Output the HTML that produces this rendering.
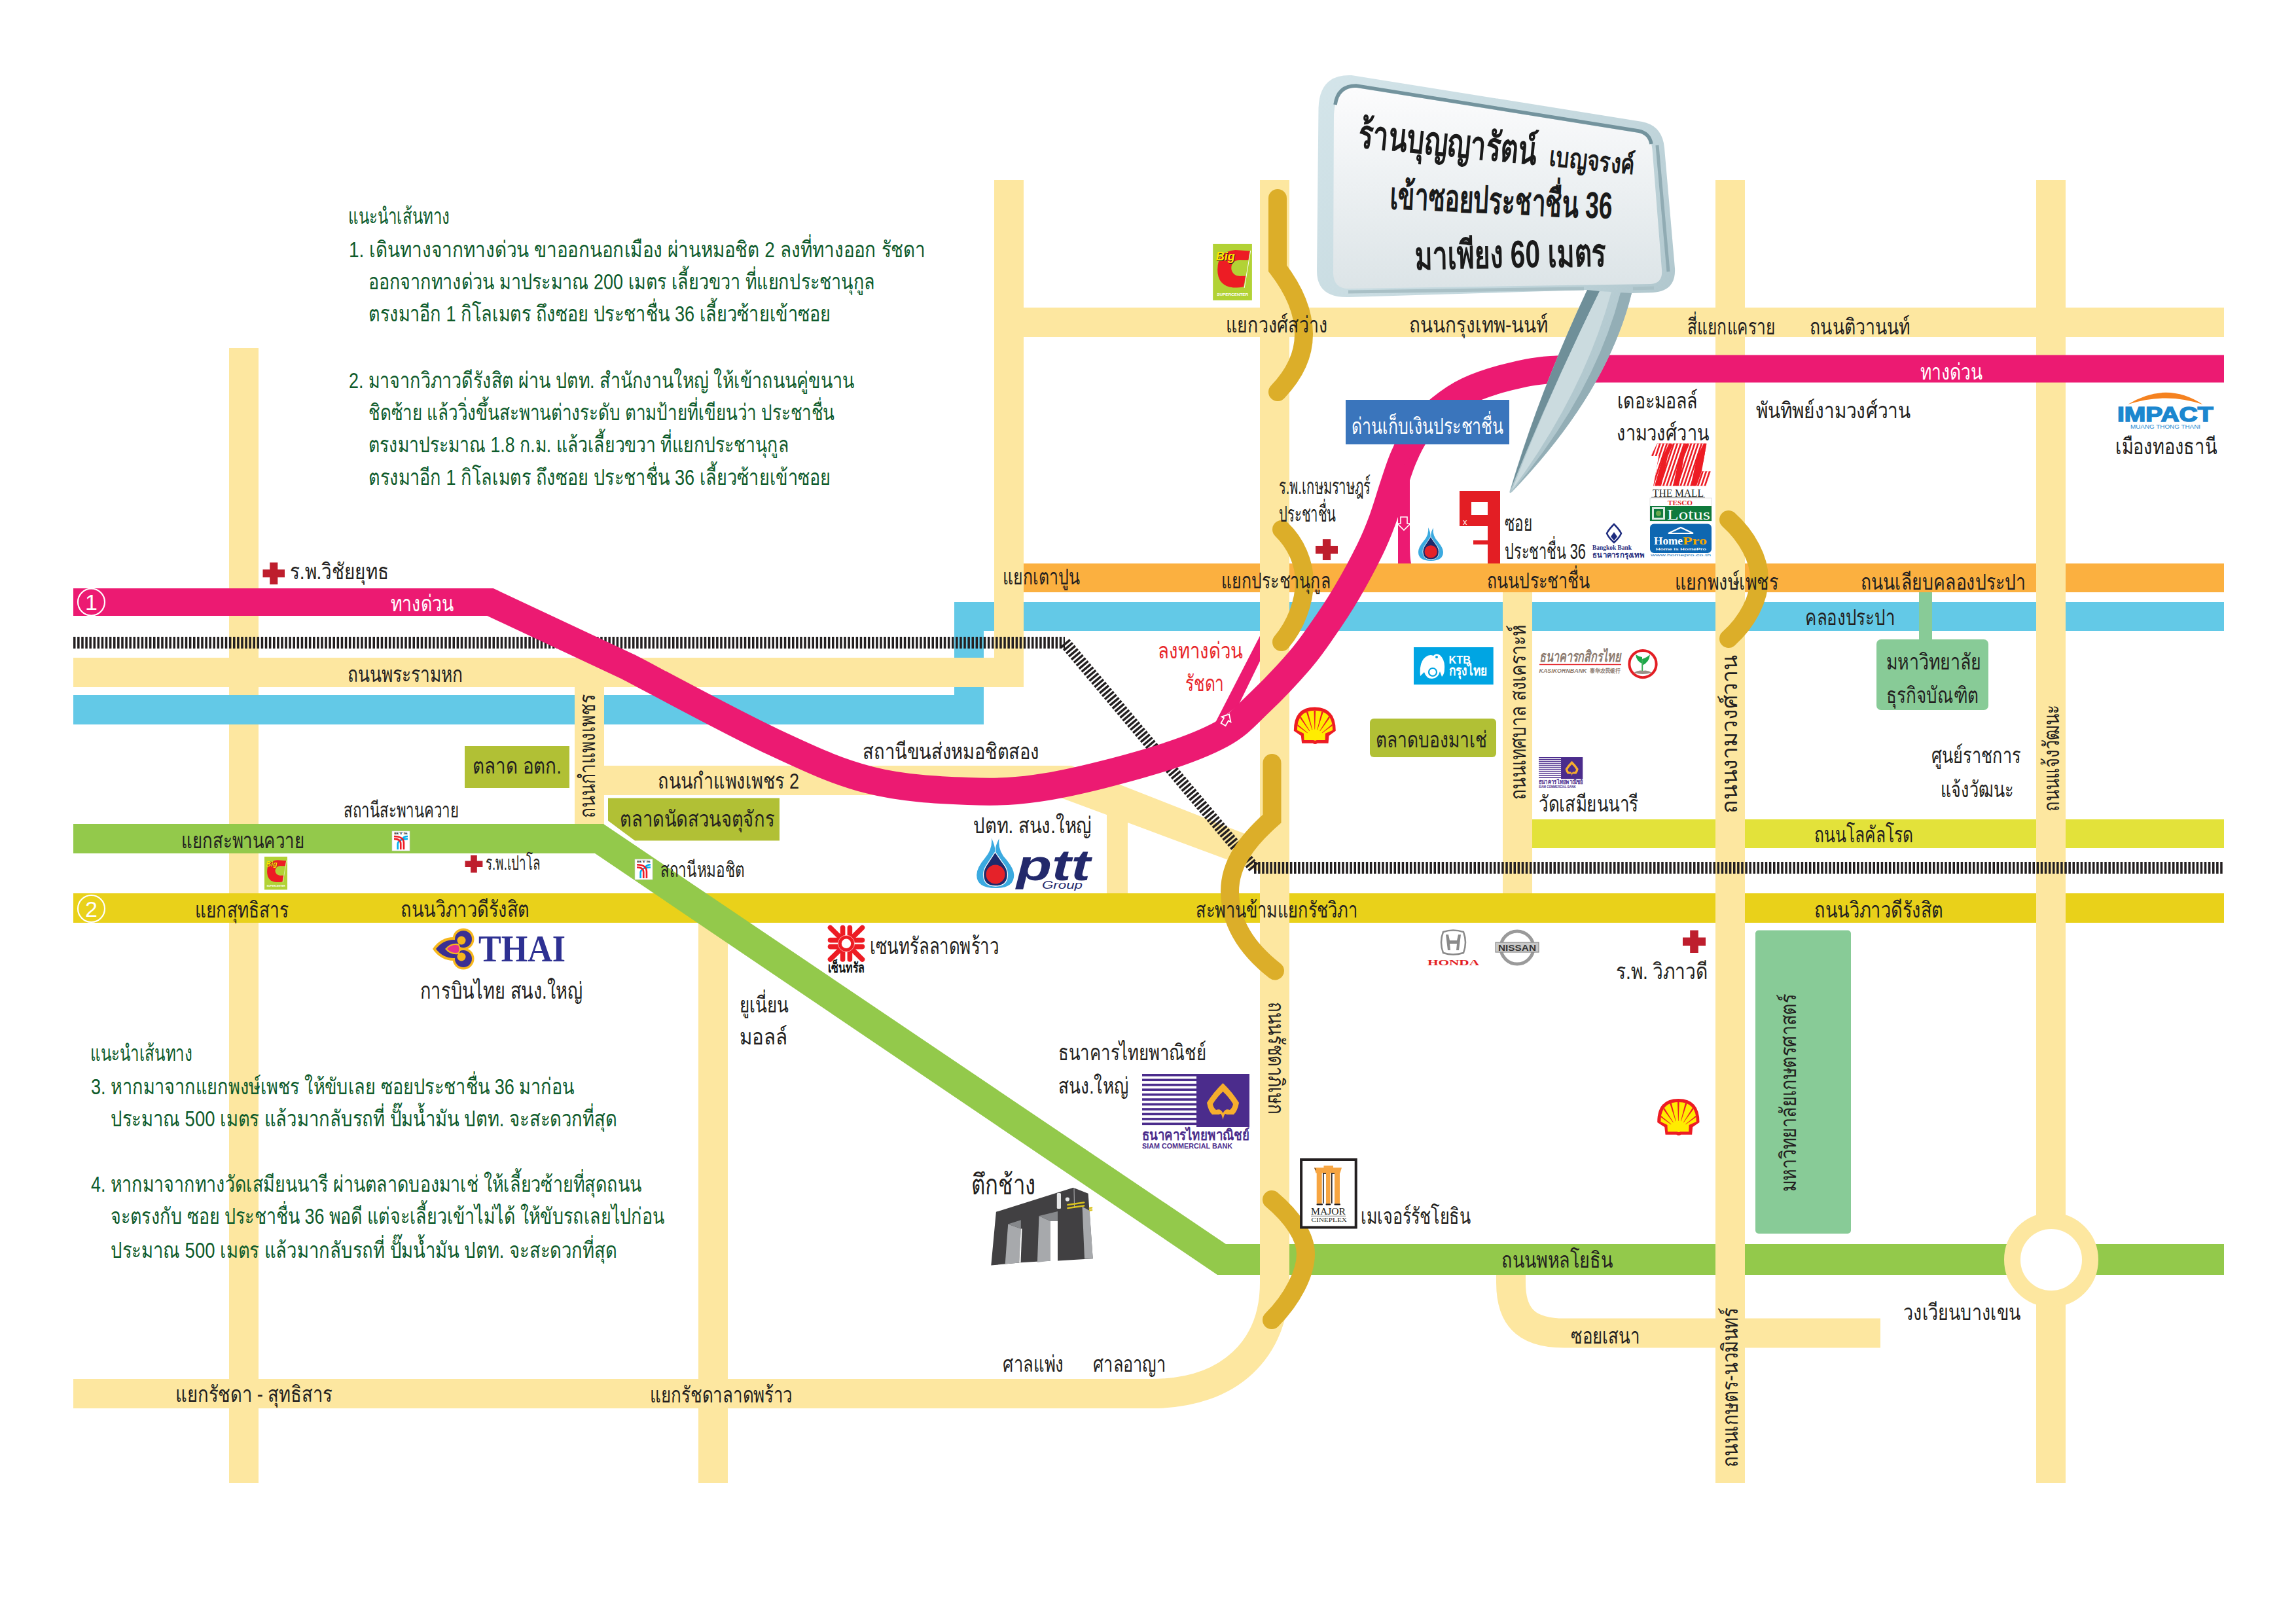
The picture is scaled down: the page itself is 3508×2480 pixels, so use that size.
<!DOCTYPE html>
<html><head><meta charset="utf-8"><title>map</title>
<style>html,body{margin:0;padding:0;background:#fff;} svg{display:block;}</style></head>
<body><svg xmlns="http://www.w3.org/2000/svg" width="3508" height="2480" viewBox="0 0 3508 2480" font-family='"Liberation Sans", sans-serif'>
<rect x="0" y="0" width="3508" height="2480" fill="#FFFFFF"/>
<rect x="350" y="532" width="45" height="1734" fill="#FDE7A0" />
<rect x="1564" y="470" width="1834" height="45" fill="#FDE7A0" />
<rect x="1067" y="1410" width="45" height="856" fill="#FDE7A0" />
<path d="M 112 2129.5 L 1760 2129.5 C 1880 2129.5 1947.5 2060 1947.5 1960 L 1947.5 1900" fill="none" stroke="#FDE7A0" stroke-width="45"/>
<rect x="112" y="1062" width="1391" height="45" fill="#63C9E7" />
<rect x="1458" y="920" width="45" height="187" fill="#63C9E7" />
<rect x="1458" y="920" width="1940" height="44" fill="#63C9E7" />
<rect x="1564" y="861" width="1834" height="44" fill="#FBB040" />
<rect x="2341" y="1252" width="1057" height="44" fill="#E3E23A" />
<rect x="112" y="1365" width="3286" height="45" fill="#E9D11A" />
<rect x="1860" y="1901" width="1538" height="47" fill="#93C94B" />
<path d="M 2308.5 1948 L 2308.5 1960 C 2308.5 2010 2330 2037 2390 2037 L 2873 2037" fill="none" stroke="#FDE7A0" stroke-width="45"/>
<path d="M 1930 962 L 1857 1104 L 1892 1078 L 1930 1000 Z" fill="#EC1A72"/>
<rect x="1519" y="275" width="45" height="775" fill="#FDE7A0" />
<rect x="112" y="1005" width="1452" height="45" fill="#FDE7A0" />
<rect x="878" y="1050" width="45" height="210" fill="#FDE7A0" />
<rect x="1925" y="275" width="45" height="1685" fill="#FDE7A0" />
<rect x="2621" y="275" width="45" height="1991" fill="#FDE7A0" />
<rect x="3111" y="275" width="45" height="1991" fill="#FDE7A0" />
<rect x="2296" y="905" width="45" height="460" fill="#FDE7A0" />
<polygon points="923,1170 1637,1170 1925,1283 1925,1332 1610,1215 923,1215" fill="#FDE7A0" />
<rect x="1691" y="1240" width="32" height="125" fill="#FDE7A0" />
<circle cx="3134" cy="1925" r="59.5" fill="#fff" stroke="#FDE7A0" stroke-width="25"/>
<path d="M 112 982 L 1627 982" stroke="#231F20" stroke-width="18" stroke-dasharray="3.5 2.6" fill="none"/>
<path d="M 1627 982 L 1916 1326" stroke="#231F20" stroke-width="18" stroke-dasharray="3.5 2.6" fill="none"/>
<path d="M 1916 1326 L 3398 1326" stroke="#231F20" stroke-width="18" stroke-dasharray="3.5 2.6" fill="none"/>
<polygon points="112,1259 922,1259 1873,1901 1900,1901 1900,1948 1860,1948 909,1304 112,1304" fill="#93C94B" />
<path d="M 112 920 L 749 920 L 960 1019 C 996.7 1038.0 1118.5 1104.2 1180.0 1133.0 C 1241.5 1161.8 1279.2 1179.3 1329.0 1192.0 C 1378.8 1204.7 1433.8 1207.3 1479.0 1209.0 C 1524.2 1210.7 1553.2 1209.7 1600.0 1202.0 C 1646.8 1194.3 1715.7 1176.3 1760.0 1163.0 C 1804.3 1149.7 1838.5 1137.0 1866.0 1122.0 C 1893.5 1107.0 1905.2 1091.7 1925.0 1073.0 C 1944.8 1054.3 1969.0 1028.5 1985.0 1010.0 C 2001.0 991.5 2008.8 979.5 2021.0 962.0 C 2033.2 944.5 2046.0 925.3 2058.0 905.0 C 2070.0 884.7 2084.0 858.3 2093.0 840.0 C 2102.0 821.7 2106.1 811.0 2112.0 795.0 C 2117.9 779.0 2123.3 759.8 2128.6 744.0 C 2133.9 728.2 2138.1 713.7 2144.0 700.0 C 2149.9 686.3 2154.7 674.5 2164.0 662.0 C 2173.3 649.5 2186.8 635.8 2200.0 625.0 C 2213.2 614.2 2225.5 605.2 2243.0 597.0 C 2260.5 588.8 2283.8 581.3 2305.0 576.0 C 2326.2 570.7 2340.8 567.1 2370.0 565.0 C 2399.2 562.9 2461.7 563.8 2480.0 563.5 L 3398 563.5" fill="none" stroke="#EC1A72" stroke-width="42" stroke-linejoin="miter"/>
<path d="M 2136 720 L 2136 861 L 2156 861 C 2154 850 2154 840 2154 820 L 2154 700 Z" fill="#EC1A72"/>
<path d="M 2140 800 L 2140 790 L 2150 790 L 2150 800 L 2155 800 L 2145 810 L 2135 800 Z" fill="none" stroke="#fff" stroke-width="1.6"/>
<g transform="translate(1873,1100) rotate(30)"><path d="M -4 8 L -4 -1 L -8 -1 L 0 -10 L 8 -1 L 4 -1 L 4 8 Z" fill="none" stroke="#fff" stroke-width="1.8"/></g>
<path d="M 1952 303 L 1952 410 C 1975 440 1992 475 1992 511 C 1992 545 1975 575 1952 599" fill="none" stroke="#DCAE29" stroke-width="28" stroke-linecap="round"/>
<path d="M 1958 809 C 1980 830 1993 860 1993 889 C 1993 920 1980 955 1958 981" fill="none" stroke="#DCAE29" stroke-width="28" stroke-linecap="round"/>
<path d="M 2641 794 C 2670 820 2688 855 2688 884 C 2688 915 2670 950 2641 976" fill="none" stroke="#DCAE29" stroke-width="28" stroke-linecap="round"/>
<path d="M 1943.5 1166 L 1943.5 1251 C 1905 1285 1879 1320 1879 1362 C 1879 1410 1905 1450 1948 1483.5" fill="none" stroke="#DCAE29" stroke-width="28" stroke-linecap="round"/>
<path d="M 1943 1833 C 1975 1860 1995 1890 1995 1916 C 1995 1945 1975 1985 1943 2017" fill="none" stroke="#DCAE29" stroke-width="28" stroke-linecap="round"/>
<rect x="710" y="1140" width="160" height="64" fill="#B1C035" />
<polygon points="929,1219.5 1191,1219.5 1191,1284.6 970,1284.6 929,1254" fill="#B1C035" />
<rect x="2093" y="1098" width="193" height="59" fill="#B1C035" rx="6"/>
<rect x="2056" y="611" width="250" height="68" fill="#3A75BC" />
<rect x="2932" y="905" width="20" height="73" fill="#88CB97" />
<rect x="2867" y="977" width="171" height="108" fill="#88CB97" rx="7"/>
<rect x="2682" y="1421.6" width="146" height="463.4000000000001" fill="#88CB97" rx="5"/>
<circle cx="139.5" cy="920" r="20.5" fill="none" stroke="#fff" stroke-width="2.2"/>
<text x="139.5" y="932" font-size="34" fill="#fff" text-anchor="middle">1</text>
<circle cx="139.5" cy="1388.5" r="20.5" fill="none" stroke="#fff" stroke-width="2.2"/>
<text x="139.5" y="1400.5" font-size="34" fill="#fff" text-anchor="middle">2</text>
<path d="M 412.2 859.5 h 12.1 v 10.7 h 10.7 v 12.1 h -10.7 v 10.7 h -12.1 v -10.7 h -10.7 v -12.1 h 10.7 Z" fill="#BE1E2D"/>
<path d="M 719.1 1307 h 9.7 v 8.4 h 8.6 v 9.7 h -8.6 v 8.4 h -9.7 v -8.4 h -8.6 v -9.7 h 8.6 Z" fill="#BE1E2D"/>
<path d="M 2020.9 824 h 12.2 v 9.9 h 10.9 v 12.2 h -10.9 v 9.9 h -12.2 v -9.9 h -10.9 v -12.2 h 10.9 Z" fill="#BE1E2D"/>
<path d="M 2582.2 1421.6 h 12.6 v 10.9 h 11.2 v 12.6 h -11.2 v 10.9 h -12.6 v -10.9 h -11.2 v -12.6 h 11.2 Z" fill="#BE1E2D"/>
<g font-family='"Liberation Sans", sans-serif'>
<text x="532" y="342" font-size="34" fill="#0E5B2B" font-weight="normal" textLength="155" lengthAdjust="spacingAndGlyphs" >แนะนำเส้นทาง</text>
<text x="533" y="392.5" font-size="34" fill="#0E5B2B" font-weight="normal" textLength="881" lengthAdjust="spacingAndGlyphs" >1. เดินทางจากทางด่วน ขาออกนอกเมือง ผ่านหมอชิต 2 ลงที่ทางออก รัชดา</text>
<text x="563" y="441.6" font-size="34" fill="#0E5B2B" font-weight="normal" textLength="774" lengthAdjust="spacingAndGlyphs" >ออกจากทางด่วน มาประมาณ 200 เมตร เลี้ยวขวา ที่แยกประชานุกูล</text>
<text x="563" y="490.7" font-size="34" fill="#0E5B2B" font-weight="normal" textLength="706" lengthAdjust="spacingAndGlyphs" >ตรงมาอีก 1 กิโลเมตร ถึงซอย ประชาชื่น 36 เลี้ยวซ้ายเข้าซอย</text>
<text x="533" y="593" font-size="34" fill="#0E5B2B" font-weight="normal" textLength="772" lengthAdjust="spacingAndGlyphs" >2. มาจากวิภาวดีรังสิต ผ่าน ปตท. สำนักงานใหญ่ ให้เข้าถนนคู่ขนาน</text>
<text x="563" y="642.3" font-size="34" fill="#0E5B2B" font-weight="normal" textLength="712" lengthAdjust="spacingAndGlyphs" >ชิดซ้าย แล้ววิ่งขึ้นสะพานต่างระดับ ตามป้ายที่เขียนว่า ประชาชื่น</text>
<text x="563" y="691.4" font-size="34" fill="#0E5B2B" font-weight="normal" textLength="642" lengthAdjust="spacingAndGlyphs" >ตรงมาประมาณ 1.8 ก.ม. แล้วเลี้ยวขวา ที่แยกประชานุกูล</text>
<text x="563" y="740.5" font-size="34" fill="#0E5B2B" font-weight="normal" textLength="706" lengthAdjust="spacingAndGlyphs" >ตรงมาอีก 1 กิโลเมตร ถึงซอย ประชาชื่น 36 เลี้ยวซ้ายเข้าซอย</text>
<text x="138" y="1620.6" font-size="34" fill="#0E5B2B" font-weight="normal" textLength="156" lengthAdjust="spacingAndGlyphs" >แนะนำเส้นทาง</text>
<text x="139" y="1671.8" font-size="34" fill="#0E5B2B" font-weight="normal" textLength="738" lengthAdjust="spacingAndGlyphs" >3. หากมาจากแยกพงษ์เพชร ให้ขับเลย ซอยประชาชื่น 36 มาก่อน</text>
<text x="169" y="1721" font-size="34" fill="#0E5B2B" font-weight="normal" textLength="774" lengthAdjust="spacingAndGlyphs" >ประมาณ 500 เมตร แล้วมากลับรถที่ ปั๊มน้ำมัน ปตท. จะสะดวกที่สุด</text>
<text x="139" y="1821" font-size="34" fill="#0E5B2B" font-weight="normal" textLength="841" lengthAdjust="spacingAndGlyphs" >4. หากมาจากทางวัดเสมียนนารี ผ่านตลาดบองมาเช่ ให้เลี้ยวซ้ายที่สุดถนน</text>
<text x="169" y="1870.4" font-size="34" fill="#0E5B2B" font-weight="normal" textLength="846" lengthAdjust="spacingAndGlyphs" >จะตรงกับ ซอย ประชาชื่น 36 พอดี แต่จะเลี้ยวเข้าไม่ได้ ให้ขับรถเลยไปก่อน</text>
<text x="169" y="1921.6" font-size="34" fill="#0E5B2B" font-weight="normal" textLength="774" lengthAdjust="spacingAndGlyphs" >ประมาณ 500 เมตร แล้วมากลับรถที่ ปั๊มน้ำมัน ปตท. จะสะดวกที่สุด</text>
<text x="443" y="885" font-size="34" fill="#231F20" font-weight="normal" textLength="151" lengthAdjust="spacingAndGlyphs" >ร.พ.วิชัยยุทธ</text>
<text x="597" y="934" font-size="34" fill="#fff" font-weight="normal" textLength="96" lengthAdjust="spacingAndGlyphs" >ทางด่วน</text>
<text x="531" y="1042" font-size="34" fill="#231F20" font-weight="normal" textLength="176" lengthAdjust="spacingAndGlyphs" >ถนนพระรามหก</text>
<text x="1532" y="893" font-size="34" fill="#231F20" font-weight="normal" textLength="118" lengthAdjust="spacingAndGlyphs" >แยกเตาปูน</text>
<text x="277" y="1296" font-size="34" fill="#231F20" font-weight="normal" textLength="188" lengthAdjust="spacingAndGlyphs" >แยกสะพานควาย</text>
<text x="525" y="1249" font-size="32" fill="#231F20" font-weight="normal" textLength="176" lengthAdjust="spacingAndGlyphs" >สถานีสะพานควาย</text>
<text x="742" y="1329" font-size="30" fill="#231F20" font-weight="normal" textLength="83" lengthAdjust="spacingAndGlyphs" >ร.พ.เปาโล</text>
<text x="1009" y="1340" font-size="32" fill="#231F20" font-weight="normal" textLength="129" lengthAdjust="spacingAndGlyphs" >สถานีหมอชิต</text>
<text x="298" y="1402" font-size="34" fill="#231F20" font-weight="normal" textLength="143" lengthAdjust="spacingAndGlyphs" >แยกสุทธิสาร</text>
<text x="612" y="1401" font-size="34" fill="#231F20" font-weight="normal" textLength="197" lengthAdjust="spacingAndGlyphs" >ถนนวิภาวดีรังสิต</text>
<text x="722" y="1182" font-size="34" fill="#231F20" font-weight="normal" textLength="136" lengthAdjust="spacingAndGlyphs" >ตลาด อตก.</text>
<text x="1005" y="1205" font-size="34" fill="#231F20" font-weight="normal" textLength="216" lengthAdjust="spacingAndGlyphs" >ถนนกำแพงเพชร 2</text>
<text x="1318" y="1160" font-size="34" fill="#231F20" font-weight="normal" textLength="270" lengthAdjust="spacingAndGlyphs" >สถานีขนส่งหมอชิตสอง</text>
<text x="947" y="1263" font-size="34" fill="#231F20" font-weight="normal" textLength="236" lengthAdjust="spacingAndGlyphs" >ตลาดนัดสวนจตุจักร</text>
<text x="1487" y="1272.5" font-size="34" fill="#231F20" font-weight="normal" textLength="181" lengthAdjust="spacingAndGlyphs" >ปตท. สนง.ใหญ่</text>
<text x="1329" y="1458" font-size="36" fill="#231F20" font-weight="normal" textLength="197" lengthAdjust="spacingAndGlyphs" >เซนทรัลลาดพร้าว</text>
<text x="642" y="1526" font-size="35" fill="#231F20" font-weight="normal" textLength="248" lengthAdjust="spacingAndGlyphs" >การบินไทย สนง.ใหญ่</text>
<text x="1130" y="1547" font-size="34" fill="#231F20" font-weight="normal" textLength="75" lengthAdjust="spacingAndGlyphs" >ยูเนี่ยน</text>
<text x="1130" y="1596" font-size="34" fill="#231F20" font-weight="normal" textLength="73" lengthAdjust="spacingAndGlyphs" >มอลล์</text>
<text x="1617" y="1619.6" font-size="34" fill="#231F20" font-weight="normal" textLength="226" lengthAdjust="spacingAndGlyphs" >ธนาคารไทยพาณิชย์</text>
<text x="1617" y="1671" font-size="34" fill="#231F20" font-weight="normal" textLength="107" lengthAdjust="spacingAndGlyphs" >สนง.ใหญ่</text>
<text x="1484" y="1824.5" font-size="43" fill="#231F20" font-weight="normal" textLength="98" lengthAdjust="spacingAndGlyphs" >ตึกช้าง</text>
<text x="1532" y="2095.7" font-size="34" fill="#231F20" font-weight="normal" textLength="93" lengthAdjust="spacingAndGlyphs" >ศาลแพ่ง</text>
<text x="1670" y="2095.7" font-size="34" fill="#231F20" font-weight="normal" textLength="111" lengthAdjust="spacingAndGlyphs" >ศาลอาญา</text>
<text x="268" y="2141.5" font-size="34" fill="#231F20" font-weight="normal" textLength="240" lengthAdjust="spacingAndGlyphs" >แยกรัชดา - สุทธิสาร</text>
<text x="993" y="2143" font-size="34" fill="#231F20" font-weight="normal" textLength="218" lengthAdjust="spacingAndGlyphs" >แยกรัชดาลาดพร้าว</text>
<text x="2079" y="1870" font-size="34" fill="#231F20" font-weight="normal" textLength="168" lengthAdjust="spacingAndGlyphs" >เมเจอร์รัชโยธิน</text>
<text x="1827" y="1402" font-size="34" fill="#231F20" font-weight="normal" textLength="247" lengthAdjust="spacingAndGlyphs" >สะพานข้ามแยกรัชวิภา</text>
<text x="2772" y="1402" font-size="34" fill="#231F20" font-weight="normal" textLength="197" lengthAdjust="spacingAndGlyphs" >ถนนวิภาวดีรังสิต</text>
<text x="2469" y="1496" font-size="34" fill="#231F20" font-weight="normal" textLength="140" lengthAdjust="spacingAndGlyphs" >ร.พ. วิภาวดี</text>
<text x="2772" y="1287" font-size="34" fill="#231F20" font-weight="normal" textLength="151" lengthAdjust="spacingAndGlyphs" >ถนนโลคัลโรด</text>
<text x="2294" y="1937" font-size="34" fill="#231F20" font-weight="normal" textLength="170" lengthAdjust="spacingAndGlyphs" >ถนนพหลโยธิน</text>
<text x="2400" y="2053" font-size="34" fill="#231F20" font-weight="normal" textLength="105" lengthAdjust="spacingAndGlyphs" >ซอยเสนา</text>
<text x="2908" y="2017" font-size="34" fill="#231F20" font-weight="normal" textLength="179" lengthAdjust="spacingAndGlyphs" >วงเวียนบางเขน</text>
<text x="1873" y="508" font-size="34" fill="#231F20" font-weight="normal" textLength="155" lengthAdjust="spacingAndGlyphs" >แยกวงศ์สว่าง</text>
<text x="2153" y="508" font-size="34" fill="#231F20" font-weight="normal" textLength="212" lengthAdjust="spacingAndGlyphs" >ถนนกรุงเทพ-นนท์</text>
<text x="2578" y="510.5" font-size="34" fill="#231F20" font-weight="normal" textLength="134" lengthAdjust="spacingAndGlyphs" >สี่แยกแคราย</text>
<text x="2765" y="510.5" font-size="34" fill="#231F20" font-weight="normal" textLength="153" lengthAdjust="spacingAndGlyphs" >ถนนติวานนท์</text>
<text x="2934" y="580" font-size="34" fill="#fff" font-weight="normal" textLength="95" lengthAdjust="spacingAndGlyphs" >ทางด่วน</text>
<text x="2065" y="662.5" font-size="34" fill="#fff" font-weight="normal" textLength="232" lengthAdjust="spacingAndGlyphs" >ด่านเก็บเงินประชาชื่น</text>
<text x="2471" y="623.6" font-size="34" fill="#231F20" font-weight="normal" textLength="123" lengthAdjust="spacingAndGlyphs" >เดอะมอลล์</text>
<text x="2470" y="672.7" font-size="34" fill="#231F20" font-weight="normal" textLength="141" lengthAdjust="spacingAndGlyphs" >งามวงศ์วาน</text>
<text x="2683" y="638.6" font-size="34" fill="#231F20" font-weight="normal" textLength="236" lengthAdjust="spacingAndGlyphs" >พันทิพย์งามวงศ์วาน</text>
<text x="3232" y="694" font-size="34" fill="#231F20" font-weight="normal" textLength="155" lengthAdjust="spacingAndGlyphs" >เมืองทองธานี</text>
<text x="1954" y="754.6" font-size="34" fill="#231F20" font-weight="normal" textLength="140" lengthAdjust="spacingAndGlyphs" >ร.พ.เกษมราษฎร์</text>
<text x="1954" y="796.5" font-size="34" fill="#231F20" font-weight="normal" textLength="87" lengthAdjust="spacingAndGlyphs" >ประชาชื่น</text>
<text x="2299" y="811" font-size="34" fill="#231F20" font-weight="normal" textLength="42" lengthAdjust="spacingAndGlyphs" >ซอย</text>
<text x="2299" y="854" font-size="34" fill="#231F20" font-weight="normal" textLength="124" lengthAdjust="spacingAndGlyphs" >ประชาชื่น 36</text>
<text x="1866" y="899" font-size="34" fill="#231F20" font-weight="normal" textLength="167" lengthAdjust="spacingAndGlyphs" >แยกประชานุกูล</text>
<text x="2272" y="899" font-size="34" fill="#231F20" font-weight="normal" textLength="157" lengthAdjust="spacingAndGlyphs" >ถนนประชาชื่น</text>
<text x="2559" y="901" font-size="34" fill="#231F20" font-weight="normal" textLength="158" lengthAdjust="spacingAndGlyphs" >แยกพงษ์เพชร</text>
<text x="2843" y="901" font-size="34" fill="#231F20" font-weight="normal" textLength="252" lengthAdjust="spacingAndGlyphs" >ถนนเลียบคลองประปา</text>
<text x="2758" y="954.6" font-size="34" fill="#231F20" font-weight="normal" textLength="137" lengthAdjust="spacingAndGlyphs" >คลองประปา</text>
<text x="2882" y="1023" font-size="34" fill="#231F20" font-weight="normal" textLength="145" lengthAdjust="spacingAndGlyphs" >มหาวิทยาลัย</text>
<text x="2882" y="1074" font-size="34" fill="#231F20" font-weight="normal" textLength="141" lengthAdjust="spacingAndGlyphs" >ธุรกิจบัณฑิต</text>
<text x="1769" y="1006" font-size="34" fill="#E8262B" font-weight="normal" textLength="130" lengthAdjust="spacingAndGlyphs" >ลงทางด่วน</text>
<text x="1811" y="1056" font-size="34" fill="#E8262B" font-weight="normal" textLength="59" lengthAdjust="spacingAndGlyphs" >รัชดา</text>
<text x="2102" y="1142" font-size="34" fill="#231F20" font-weight="normal" textLength="170" lengthAdjust="spacingAndGlyphs" >ตลาดบองมาเช่</text>
<text x="2351" y="1240" font-size="34" fill="#231F20" font-weight="normal" textLength="152" lengthAdjust="spacingAndGlyphs" >วัดเสมียนนารี</text>
<text x="2951" y="1166" font-size="34" fill="#231F20" font-weight="normal" textLength="136" lengthAdjust="spacingAndGlyphs" >ศูนย์ราชการ</text>
<text x="2965" y="1218" font-size="34" fill="#231F20" font-weight="normal" textLength="111" lengthAdjust="spacingAndGlyphs" >แจ้งวัฒนะ</text>
<text transform="translate(908.7,1250) rotate(-90)" x="0" y="0" font-size="34" fill="#231F20" textLength="189" lengthAdjust="spacingAndGlyphs">ถนนกำแพงเพชร</text>
<text transform="translate(1938.3,1531) rotate(90)" x="0" y="0" font-size="34" fill="#231F20" textLength="172" lengthAdjust="spacingAndGlyphs">ถนนรัชดาภิเษก</text>
<text transform="translate(2655.2,2242) rotate(-90)" x="0" y="0" font-size="34" fill="#231F20" textLength="244" lengthAdjust="spacingAndGlyphs">ถนนเกษตร-นวมินทร์</text>
<text transform="translate(2743.7,1821) rotate(-90)" x="0" y="0" font-size="34" fill="#231F20" textLength="302" lengthAdjust="spacingAndGlyphs">มหาวิทยาลัยเกษตรศาสตร์</text>
<text transform="translate(2330.7,1222) rotate(-90)" x="0" y="0" font-size="34" fill="#231F20" textLength="267" lengthAdjust="spacingAndGlyphs">ถนนเทศบาล สงเคราะห์</text>
<text transform="translate(2653.7,1243) rotate(-90)" x="0" y="0" font-size="34" fill="#231F20" textLength="242" lengthAdjust="spacingAndGlyphs">ถนนงามวงศ์วาน</text>
<text transform="translate(3145.7,1240) rotate(-90)" x="0" y="0" font-size="34" fill="#231F20" textLength="163" lengthAdjust="spacingAndGlyphs">ถนนแจ้งวัฒนะ</text>
</g>
<g transform="translate(1853.2,372.9) scale(1.0000,1.0000)">
<rect x="0" y="0" width="59.7" height="86" fill="#B2D235"/>
<path d="M 34.2 9 L 56.6 10.5 L 47 65 Q 42 66.5 31 66.5 Q 7 64 7 39 Q 7 11 34.2 9 Z" fill="#ED1C24"/>
<circle cx="40.3" cy="36.6" r="12.2" fill="#B2D235"/>
<polygon points="40.3,24.4 56,24.4 52,48.8 40.3,48.8" fill="#B2D235"/>
<line x1="57.5" y1="10" x2="48" y2="67" stroke="#fff" stroke-width="1"/>
<text x="5.2" y="26.2" font-size="19" font-weight="bold" font-style="italic" fill="#231F20" font-family='"Liberation Sans",sans-serif' textLength="29" lengthAdjust="spacingAndGlyphs">Big</text>
<text x="4.5" y="25" font-size="19" font-weight="bold" font-style="italic" fill="#FFE600" font-family='"Liberation Sans",sans-serif' textLength="29" lengthAdjust="spacingAndGlyphs">Big</text>
<text x="6" y="79" font-size="6" font-weight="bold" fill="#fff" font-family='"Liberation Sans",sans-serif' textLength="48" lengthAdjust="spacingAndGlyphs">SUPERCENTER</text>
</g>
<g transform="translate(404,1309) scale(0.5863,0.5872)">
<rect x="0" y="0" width="59.7" height="86" fill="#B2D235"/>
<path d="M 34.2 9 L 56.6 10.5 L 47 65 Q 42 66.5 31 66.5 Q 7 64 7 39 Q 7 11 34.2 9 Z" fill="#ED1C24"/>
<circle cx="40.3" cy="36.6" r="12.2" fill="#B2D235"/>
<polygon points="40.3,24.4 56,24.4 52,48.8 40.3,48.8" fill="#B2D235"/>
<line x1="57.5" y1="10" x2="48" y2="67" stroke="#fff" stroke-width="1"/>
<text x="5.2" y="26.2" font-size="19" font-weight="bold" font-style="italic" fill="#231F20" font-family='"Liberation Sans",sans-serif' textLength="29" lengthAdjust="spacingAndGlyphs">Big</text>
<text x="4.5" y="25" font-size="19" font-weight="bold" font-style="italic" fill="#FFE600" font-family='"Liberation Sans",sans-serif' textLength="29" lengthAdjust="spacingAndGlyphs">Big</text>
<text x="6" y="79" font-size="6" font-weight="bold" fill="#fff" font-family='"Liberation Sans",sans-serif' textLength="48" lengthAdjust="spacingAndGlyphs">SUPERCENTER</text>
</g>
<g transform="translate(599,1270) scale(0.9747,0.9646)">
<rect x="0" y="0" width="27.7" height="31.1" fill="#fff" stroke="#cfcfcf" stroke-width="0.6"/>
<text x="3.1" y="5.3" font-size="4.2" font-weight="bold" fill="#333" font-family='"Liberation Sans",sans-serif' textLength="21.5" lengthAdjust="spacingAndGlyphs">BTS</text>
<g fill="none" stroke-width="2.7">
<path d="M 24.6 8.3 C 19 8.3 17 10.5 16 13" stroke="#00AEEF"/>
<path d="M 24.6 12.3 C 15 12.3 8.9 15 8.9 21 L 8.9 29" stroke="#00AEEF"/>
<path d="M 3.1 8.3 C 10 8.3 18.4 10 18.4 19 L 18.4 29" stroke="#ED1C24"/>
<path d="M 3.1 12.3 C 9 12.3 13.6 14 13.6 20 L 13.6 29" stroke="#ED1C24"/>
</g></g>
<g transform="translate(970,1313) scale(0.9747,0.9968)">
<rect x="0" y="0" width="27.7" height="31.1" fill="#fff" stroke="#cfcfcf" stroke-width="0.6"/>
<text x="3.1" y="5.3" font-size="4.2" font-weight="bold" fill="#333" font-family='"Liberation Sans",sans-serif' textLength="21.5" lengthAdjust="spacingAndGlyphs">BTS</text>
<g fill="none" stroke-width="2.7">
<path d="M 24.6 8.3 C 19 8.3 17 10.5 16 13" stroke="#00AEEF"/>
<path d="M 24.6 12.3 C 15 12.3 8.9 15 8.9 21 L 8.9 29" stroke="#00AEEF"/>
<path d="M 3.1 8.3 C 10 8.3 18.4 10 18.4 19 L 18.4 29" stroke="#ED1C24"/>
<path d="M 3.1 12.3 C 9 12.3 13.6 14 13.6 20 L 13.6 29" stroke="#ED1C24"/>
</g></g>
<g transform="translate(1492.2,1280.5) scale(1.0000) translate(-1492.2,-1280.5)">
<path d="M 1514.8 1280.5 Q 1520.5 1292 1520.5 1301 Q 1520.5 1292 1526.6 1281.3 Q 1524 1300 1538 1314 Q 1549.3 1328 1549.3 1337 Q 1549.3 1357.1 1521 1357.1 Q 1492.2 1357.1 1492.2 1337 Q 1492.2 1326 1505 1311 Q 1517 1297 1514.8 1280.5 Z" fill="#3BAAE0"/>
<path d="M 1520.5 1302 Q 1530 1316 1536 1324 Q 1539.5 1331 1539.5 1336 Q 1539.5 1354 1521 1354 Q 1502.5 1354 1502.5 1336 Q 1502.5 1331 1506 1324 Q 1512 1315 1520.5 1302 Z" fill="#1D2A6B" stroke="#fff" stroke-width="1.3"/>
<circle cx="1521" cy="1336" r="14.5" fill="#E52229"/>
<line x1="1520.6" y1="1285" x2="1520.6" y2="1302" stroke="#fff" stroke-width="1"/>
</g>
<g transform="translate(2167,806) scale(0.6655) translate(-1492.2,-1280.5)">
<path d="M 1514.8 1280.5 Q 1520.5 1292 1520.5 1301 Q 1520.5 1292 1526.6 1281.3 Q 1524 1300 1538 1314 Q 1549.3 1328 1549.3 1337 Q 1549.3 1357.1 1521 1357.1 Q 1492.2 1357.1 1492.2 1337 Q 1492.2 1326 1505 1311 Q 1517 1297 1514.8 1280.5 Z" fill="#3BAAE0"/>
<path d="M 1520.5 1302 Q 1530 1316 1536 1324 Q 1539.5 1331 1539.5 1336 Q 1539.5 1354 1521 1354 Q 1502.5 1354 1502.5 1336 Q 1502.5 1331 1506 1324 Q 1512 1315 1520.5 1302 Z" fill="#1D2A6B" stroke="#fff" stroke-width="1.3"/>
<circle cx="1521" cy="1336" r="14.5" fill="#E52229"/>
<line x1="1520.6" y1="1285" x2="1520.6" y2="1302" stroke="#fff" stroke-width="1"/>
</g>
<text x="1553" y="1345" font-size="66" font-weight="bold" font-style="italic" fill="#23296B" font-family='"Liberation Sans",sans-serif' textLength="113" lengthAdjust="spacingAndGlyphs">ptt</text>
<text x="1592" y="1358" font-size="17" font-style="italic" fill="#23296B" font-family='"Liberation Sans",sans-serif' textLength="62" lengthAdjust="spacingAndGlyphs">Group</text>
<g>
<circle cx="708" cy="1435" r="16.5" fill="#F6B71C"/><circle cx="708" cy="1465" r="16.5" fill="#F6B71C"/>
<path d="M 661 1450 Q 676 1428 703 1433 L 703 1467 Q 676 1472 661 1450 Z" fill="#F6B71C"/>
<circle cx="708" cy="1435" r="13" fill="#3B2F92"/><circle cx="708" cy="1465" r="13" fill="#3B2F92"/>
<path d="M 666 1450 Q 680 1432 703 1437 L 703 1463 Q 680 1468 666 1450 Z" fill="#3B2F92"/>
<circle cx="705" cy="1437" r="6.5" fill="#F6B71C"/><circle cx="705" cy="1462" r="6.5" fill="#F6B71C"/>
<path d="M 680 1450 Q 688 1440 701 1442 Q 706 1450 701 1458 Q 688 1460 680 1450 Z" fill="#F6B71C"/>
<path d="M 683 1450 Q 690 1442.5 700 1444.5 Q 703 1450 700 1455.5 Q 690 1457.5 683 1450 Z" fill="#E4308F"/>
</g>
<text x="731" y="1469" font-size="58" font-weight="bold" fill="#2E3192" font-family='"Liberation Serif",serif' textLength="133" lengthAdjust="spacingAndGlyphs">THAI</text>
<g stroke="#ED1C24" stroke-width="7.6" stroke-linecap="round" fill="none">
<line x1="1268.5" y1="1417.5" x2="1317.5" y2="1466"/><line x1="1317.5" y1="1417.5" x2="1268.5" y2="1466"/>
<line x1="1287.6" y1="1417.5" x2="1287.6" y2="1466"/><line x1="1298.4" y1="1417.5" x2="1298.4" y2="1466"/>
<line x1="1268.5" y1="1436.6" x2="1317.5" y2="1436.6"/><line x1="1268.5" y1="1446.6" x2="1317.5" y2="1446.6"/>
</g>
<circle cx="1293" cy="1441.8" r="12.6" fill="#ED1C24" stroke="#fff" stroke-width="0.6"/><circle cx="1293" cy="1441.8" r="7.2" fill="#fff"/>
<text x="1265" y="1486" font-size="21" font-weight="bold" fill="#111" font-family='"Liberation Serif",serif' textLength="56" lengthAdjust="spacingAndGlyphs">เซ็นทรัล</text>
<polygon points="1514.3,1933.5 1521.9,1851.8 1639.8,1814.7 1662.6,1823.7 1669.7,1923.3 1616,1926.5 1616,1866 1605,1866 1605,1926.5 1558.9,1929.3 1557.2,1929.5" fill="#414042"/>
<polygon points="1535.7,1931.6 1540.2,1870.6 1559.8,1877.5 1557.2,1929.5" fill="#A7A9AC"/>
<polygon points="1540.2,1870.6 1559.8,1864.3 1559.8,1877.5" fill="#86888B"/>
<polygon points="1557.2,1929.5 1559.8,1877.5 1561.5,1877.5 1559.5,1929.3" fill="#fff"/>
<polygon points="1584.9,1929 1587.5,1858 1605,1866 1605,1926.5" fill="#A7A9AC"/>
<polygon points="1587.5,1858 1616,1851 1616,1866 1605,1866" fill="#86888B"/>
<polygon points="1605,1926.5 1605,1866 1616,1866 1616,1926.5" fill="#fff"/>
<polygon points="1653.6,1843.8 1664.8,1850 1669.7,1923.3 1657,1923.5" fill="#A7A9AC"/>
<rect x="1614.8" y="1823" width="6.2" height="24" rx="1.5" fill="#E6E7E8"/>
<line x1="1641" y1="1815.5" x2="1641.5" y2="1846" stroke="#D0D2D3" stroke-width="0.8"/>
<circle cx="1630.9" cy="1832.6" r="3.1" fill="#E6E7E8"/>
<g stroke="#D9C21E" stroke-width="2.7" stroke-linecap="round"><line x1="1631.5" y1="1841" x2="1656" y2="1837.5"/><line x1="1631.5" y1="1846" x2="1656" y2="1842.5"/><line x1="1665" y1="1846" x2="1668" y2="1845.5"/><line x1="1665" y1="1849.5" x2="1668" y2="1849"/></g>
<g transform="translate(1745,1641) scale(1.0000)">
<rect x="0" y="0.00" width="83" height="3.6" fill="#4B2C8C"/>
<rect x="0" y="7.45" width="83" height="3.6" fill="#4B2C8C"/>
<rect x="0" y="14.90" width="83" height="3.6" fill="#4B2C8C"/>
<rect x="0" y="22.35" width="83" height="3.6" fill="#4B2C8C"/>
<rect x="0" y="29.80" width="83" height="3.6" fill="#4B2C8C"/>
<rect x="0" y="37.25" width="83" height="3.6" fill="#4B2C8C"/>
<rect x="0" y="44.70" width="83" height="3.6" fill="#4B2C8C"/>
<rect x="0" y="52.15" width="83" height="3.6" fill="#4B2C8C"/>
<rect x="0" y="59.60" width="83" height="3.6" fill="#4B2C8C"/>
<rect x="0" y="67.05" width="83" height="3.6" fill="#4B2C8C"/>
<rect x="0" y="74.50" width="83" height="3.6" fill="#4B2C8C"/>
<rect x="83" y="0" width="81" height="81" fill="#4B2C8C"/>
<path d="M 123.5 14 Q 138 28 148 44 Q 146 56 140 62 L 129 62 Q 126 58 123.5 70 Q 121 58 118 62 L 107 62 Q 101 56 99 44 Q 109 28 123.5 14 Z" fill="#F6AE2D"/>
<path d="M 123.5 27 Q 133 36 139 46 Q 138 52 134 55 Q 127 52 123.5 60 Q 120 52 113 55 Q 109 52 108 46 Q 114 36 123.5 27 Z" fill="#4B2C8C"/>
<text x="0" y="101" font-size="22" font-weight="bold" fill="#4B2C8C" font-family='"Liberation Sans",sans-serif' textLength="164" lengthAdjust="spacingAndGlyphs">ธนาคารไทยพาณิชย์</text>
<text x="0" y="114" font-size="11" font-weight="bold" fill="#4B2C8C" font-family='"Liberation Sans",sans-serif' textLength="138" lengthAdjust="spacingAndGlyphs">SIAM COMMERCIAL BANK</text>
</g>
<g transform="translate(2351,1157) scale(0.4100)">
<rect x="0" y="0.00" width="83" height="3.6" fill="#4B2C8C"/>
<rect x="0" y="7.45" width="83" height="3.6" fill="#4B2C8C"/>
<rect x="0" y="14.90" width="83" height="3.6" fill="#4B2C8C"/>
<rect x="0" y="22.35" width="83" height="3.6" fill="#4B2C8C"/>
<rect x="0" y="29.80" width="83" height="3.6" fill="#4B2C8C"/>
<rect x="0" y="37.25" width="83" height="3.6" fill="#4B2C8C"/>
<rect x="0" y="44.70" width="83" height="3.6" fill="#4B2C8C"/>
<rect x="0" y="52.15" width="83" height="3.6" fill="#4B2C8C"/>
<rect x="0" y="59.60" width="83" height="3.6" fill="#4B2C8C"/>
<rect x="0" y="67.05" width="83" height="3.6" fill="#4B2C8C"/>
<rect x="0" y="74.50" width="83" height="3.6" fill="#4B2C8C"/>
<rect x="83" y="0" width="81" height="81" fill="#4B2C8C"/>
<path d="M 123.5 14 Q 138 28 148 44 Q 146 56 140 62 L 129 62 Q 126 58 123.5 70 Q 121 58 118 62 L 107 62 Q 101 56 99 44 Q 109 28 123.5 14 Z" fill="#F6AE2D"/>
<path d="M 123.5 27 Q 133 36 139 46 Q 138 52 134 55 Q 127 52 123.5 60 Q 120 52 113 55 Q 109 52 108 46 Q 114 36 123.5 27 Z" fill="#4B2C8C"/>
<text x="0" y="101" font-size="22" font-weight="bold" fill="#4B2C8C" font-family='"Liberation Sans",sans-serif' textLength="164" lengthAdjust="spacingAndGlyphs">ธนาคารไทยพาณิชย์</text>
<text x="0" y="114" font-size="11" font-weight="bold" fill="#4B2C8C" font-family='"Liberation Sans",sans-serif' textLength="138" lengthAdjust="spacingAndGlyphs">SIAM COMMERCIAL BANK</text>
</g>
<rect x="1988.1" y="1772" width="83.6" height="103.5" fill="#fff" stroke="#231F20" stroke-width="4"/>
<g fill="#F7A541"><rect x="2022.5" y="1781.2" width="14.5" height="3.5"/><path d="M 2008 1784.3 L 2050 1784.3 L 2047.5 1792.6 L 2010.5 1792.6 Z"/><rect x="2011.7" y="1792" width="8" height="47.3"/><rect x="2026" y="1792" width="6.6" height="47.3"/><rect x="2039" y="1792" width="8" height="47.3"/></g>
<g fill="#231F20"><rect x="2021" y="1792.4" width="1.6" height="46.5"/><rect x="2021" y="1792.4" width="5" height="1.5"/><rect x="2034" y="1792.4" width="1.6" height="46.5"/><rect x="2034" y="1792.4" width="5" height="1.5"/><rect x="2011.5" y="1839.3" width="9.5" height="2.2" rx="1"/><rect x="2025.5" y="1839.3" width="7.8" height="2.2" rx="1"/><rect x="2038.5" y="1839.3" width="9.5" height="2.2" rx="1"/><path d="M 2008 1784.3 L 2010.5 1789 L 2010.5 1786 Z"/></g>
<text x="2003" y="1856" font-size="14.5" fill="#231F20" font-family='"Liberation Serif",serif' textLength="53" lengthAdjust="spacingAndGlyphs">MAJOR</text>
<rect x="2003" y="1857.8" width="53" height="0.7" fill="#555"/>
<text x="2003.4" y="1867" font-size="8.5" fill="#231F20" font-family='"Liberation Serif",serif' textLength="54.6" lengthAdjust="spacingAndGlyphs">CINEPLEX</text>
<path d="M 2205 1424 Q 2220 1419 2236 1424 Q 2242 1440 2236 1456 Q 2220 1461 2205 1456 Q 2199 1440 2205 1424 Z" fill="#fff" stroke="#8A8A8A" stroke-width="2.5"/>
<path d="M 2209 1428 L 2213 1428 L 2215 1437 L 2226 1437 L 2228 1428 L 2232 1428 L 2229 1452 L 2225 1452 L 2226 1442 L 2215 1442 L 2216 1452 L 2212 1452 Z" fill="#8A8A8A"/>
<text x="2181" y="1475" font-size="12" font-weight="bold" fill="#E31E24" font-family='"Liberation Serif",serif' textLength="79" lengthAdjust="spacingAndGlyphs">HONDA</text>
<circle cx="2318" cy="1448" r="25" fill="none" stroke="#9A9A9A" stroke-width="5"/>
<rect x="2285" y="1440" width="66" height="15" fill="#C8C8C8" stroke="#8A8A8A" stroke-width="1.2"/>
<text x="2289" y="1452.5" font-size="12" font-weight="bold" fill="#333" font-family='"Liberation Sans",sans-serif' textLength="58" lengthAdjust="spacingAndGlyphs">NISSAN</text>
<g transform="translate(1976.8,1080.6) scale(1.0000,1.0000)">
<defs><clipPath id="shellclip1"><path d="M 5.1 35.2 Q 5.1 5.2 32 5.2 Q 59.3 5.2 59.3 35.2 L 48.2 40.2 L 47.8 50.5 L 35 50.5 Q 32.5 52 30 50.5 L 15.7 50.5 L 15.2 40.2 Z"/></clipPath></defs>
<path d="M 0 36.2 Q 0 0 32 0 Q 64 0 64 36.2 L 53.7 43.6 L 52.7 55.2 L 36 55.2 Q 32.5 57.8 29 55.2 L 12.3 55.2 L 11 43.6 Z" fill="#ED1C24"/>
<path d="M 5.1 35.2 Q 5.1 5.2 32 5.2 Q 59.3 5.2 59.3 35.2 L 48.2 40.2 L 47.8 50.5 L 35 50.5 Q 32.5 52 30 50.5 L 15.7 50.5 L 15.2 40.2 Z" fill="#FFEC00"/>
<g clip-path="url(#shellclip1)" fill="#ED1C24">
<polygon points="20.78,39.62 -8.39,18.48 -6.42,15.96 21.15,39.14"/>
<polygon points="23.92,36.56 2.71,7.44 5.37,5.65 24.42,36.23"/>
<polygon points="27.85,34.63 16.68,0.38 19.76,-0.50 28.43,34.46"/>
<polygon points="31.70,34.00 30.40,-2.00 33.60,-2.00 32.30,34.00"/>
<polygon points="35.57,34.46 44.24,-0.50 47.32,0.38 36.15,34.63"/>
<polygon points="39.58,36.23 58.63,5.65 61.29,7.44 40.08,36.56"/>
<polygon points="42.85,39.14 70.42,15.96 72.39,18.48 43.22,39.62"/>
</g></g>
<g transform="translate(2532.2,1678.9) scale(1.0047,0.9948)">
<defs><clipPath id="shellclip2"><path d="M 5.1 35.2 Q 5.1 5.2 32 5.2 Q 59.3 5.2 59.3 35.2 L 48.2 40.2 L 47.8 50.5 L 35 50.5 Q 32.5 52 30 50.5 L 15.7 50.5 L 15.2 40.2 Z"/></clipPath></defs>
<path d="M 0 36.2 Q 0 0 32 0 Q 64 0 64 36.2 L 53.7 43.6 L 52.7 55.2 L 36 55.2 Q 32.5 57.8 29 55.2 L 12.3 55.2 L 11 43.6 Z" fill="#ED1C24"/>
<path d="M 5.1 35.2 Q 5.1 5.2 32 5.2 Q 59.3 5.2 59.3 35.2 L 48.2 40.2 L 47.8 50.5 L 35 50.5 Q 32.5 52 30 50.5 L 15.7 50.5 L 15.2 40.2 Z" fill="#FFEC00"/>
<g clip-path="url(#shellclip2)" fill="#ED1C24">
<polygon points="20.78,39.62 -8.39,18.48 -6.42,15.96 21.15,39.14"/>
<polygon points="23.92,36.56 2.71,7.44 5.37,5.65 24.42,36.23"/>
<polygon points="27.85,34.63 16.68,0.38 19.76,-0.50 28.43,34.46"/>
<polygon points="31.70,34.00 30.40,-2.00 33.60,-2.00 32.30,34.00"/>
<polygon points="35.57,34.46 44.24,-0.50 47.32,0.38 36.15,34.63"/>
<polygon points="39.58,36.23 58.63,5.65 61.29,7.44 40.08,36.56"/>
<polygon points="42.85,39.14 70.42,15.96 72.39,18.48 43.22,39.62"/>
</g></g>
<rect x="2160" y="989" width="121.7" height="57" fill="#00A5E3"/>
<path d="M 2170 1033 Q 2168 1012 2178 1004 Q 2184 999 2190 1002 Q 2194 997 2200 1001 Q 2208 1008 2207 1022 Q 2207 1030 2203 1034 L 2200 1026 Q 2197 1037 2188 1037 Q 2179 1037 2176 1027 Z" fill="#fff"/>
<circle cx="2189" cy="1027" r="6" fill="none" stroke="#00A5E3" stroke-width="2.2"/>
<circle cx="2195" cy="1004" r="2" fill="#00A5E3"/>
<text x="2213.5" y="1013.8" font-size="16" font-weight="bold" fill="#fff" font-family='"Liberation Sans",sans-serif' textLength="33.5" lengthAdjust="spacingAndGlyphs">KTB</text>
<text x="2213.5" y="1032" font-size="21" font-weight="bold" fill="#fff" font-family='"Liberation Sans",sans-serif' textLength="58.5" lengthAdjust="spacingAndGlyphs">กรุงไทย</text>
<text x="2352" y="1010.5" font-size="23" font-weight="bold" font-style="italic" fill="#8C7B70" font-family='"Liberation Sans",sans-serif' textLength="124" lengthAdjust="spacingAndGlyphs">ธนาคารกสิกรไทย</text>
<rect x="2352" y="1014.7" width="125" height="1.5" fill="#E31E24"/>
<text x="2351.5" y="1027.7" font-size="9.8" font-weight="bold" font-style="italic" fill="#8C7B70" font-family='"Liberation Sans",sans-serif' textLength="73" lengthAdjust="spacingAndGlyphs">KASIKORNBANK</text>
<text x="2429" y="1027.7" font-size="8.5" font-weight="bold" fill="#8C7B70" font-family='"Liberation Sans",sans-serif' textLength="47" lengthAdjust="spacingAndGlyphs">泰华农民银行</text>
<circle cx="2510" cy="1014.6" r="20.6" fill="#fff" stroke="#E31E24" stroke-width="4"/>
<path d="M 2499 1000 Q 2500 1010 2509 1014 L 2509 1004 Q 2503 1003 2499 1000 Z M 2521 1000 Q 2520 1012 2509 1017 L 2509 1007 Q 2516 1005 2521 1000 Z" fill="#1DA84A"/>
<rect x="2508.2" y="1007" width="2" height="19" fill="#3BB05A"/>
<path d="M 2496 1028 Q 2503 1023 2510 1025 Q 2517 1023 2524 1028 Q 2510 1032 2496 1028 Z" fill="#9C8F86"/>
<defs><clipPath id="mallclip"><polygon points="2532,677.6 2607.5,677.6 2599.9,720.3 2613.9,720.3 2606.3,742.6 2526.1,742.6 2534.3,696.9 2522.3,696.9"/></clipPath></defs>
<g clip-path="url(#mallclip)"><rect x="2520" y="676" width="96" height="68" fill="#ED1C24"/>
<line x1="2490.0" y1="745" x2="2513.0" y2="676" stroke="#fff" stroke-width="2.4"/>
<line x1="2495.3" y1="745" x2="2518.3" y2="676" stroke="#fff" stroke-width="2.4"/>
<line x1="2500.6" y1="745" x2="2523.6" y2="676" stroke="#fff" stroke-width="2.4"/>
<line x1="2505.9" y1="745" x2="2528.9" y2="676" stroke="#fff" stroke-width="2.4"/>
<line x1="2511.2" y1="745" x2="2534.2" y2="676" stroke="#fff" stroke-width="2.4"/>
<line x1="2516.5" y1="745" x2="2539.5" y2="676" stroke="#fff" stroke-width="2.4"/>
<line x1="2521.8" y1="745" x2="2544.8" y2="676" stroke="#fff" stroke-width="2.4"/>
<line x1="2527.1" y1="745" x2="2550.1" y2="676" stroke="#fff" stroke-width="2.4"/>
<line x1="2532.4" y1="745" x2="2555.4" y2="676" stroke="#fff" stroke-width="2.4"/>
<line x1="2537.7" y1="745" x2="2560.7" y2="676" stroke="#fff" stroke-width="2.4"/>
<line x1="2543.0" y1="745" x2="2566.0" y2="676" stroke="#fff" stroke-width="2.4"/>
<line x1="2548.3" y1="745" x2="2571.3" y2="676" stroke="#fff" stroke-width="2.4"/>
<line x1="2553.6" y1="745" x2="2576.6" y2="676" stroke="#fff" stroke-width="2.4"/>
<line x1="2558.9" y1="745" x2="2581.9" y2="676" stroke="#fff" stroke-width="2.4"/>
<line x1="2564.2" y1="745" x2="2587.2" y2="676" stroke="#fff" stroke-width="2.4"/>
<line x1="2569.5" y1="745" x2="2592.5" y2="676" stroke="#fff" stroke-width="2.4"/>
<line x1="2574.8" y1="745" x2="2597.8" y2="676" stroke="#fff" stroke-width="2.4"/>
<line x1="2580.1" y1="745" x2="2603.1" y2="676" stroke="#fff" stroke-width="2.4"/>
<line x1="2585.4" y1="745" x2="2608.4" y2="676" stroke="#fff" stroke-width="2.4"/>
<line x1="2590.7" y1="745" x2="2613.7" y2="676" stroke="#fff" stroke-width="2.4"/>
<line x1="2596.0" y1="745" x2="2619.0" y2="676" stroke="#fff" stroke-width="2.4"/>
<line x1="2601.3" y1="745" x2="2624.3" y2="676" stroke="#fff" stroke-width="2.4"/>
<line x1="2606.6" y1="745" x2="2629.6" y2="676" stroke="#fff" stroke-width="2.4"/>
<line x1="2611.9" y1="745" x2="2634.9" y2="676" stroke="#fff" stroke-width="2.4"/>
<line x1="2617.2" y1="745" x2="2640.2" y2="676" stroke="#fff" stroke-width="2.4"/>
<line x1="2622.5" y1="745" x2="2645.5" y2="676" stroke="#fff" stroke-width="2.4"/>
<line x1="2627.8" y1="745" x2="2650.8" y2="676" stroke="#fff" stroke-width="2.4"/>
<line x1="2633.1" y1="745" x2="2656.1" y2="676" stroke="#fff" stroke-width="2.4"/>
<line x1="2638.4" y1="745" x2="2661.4" y2="676" stroke="#fff" stroke-width="2.4"/>
<line x1="2643.7" y1="745" x2="2666.7" y2="676" stroke="#fff" stroke-width="2.4"/>
<polygon points="2541,697 2550,677.6 2556,679 2548,698 2538,742.6 2528,742.6" fill="#ED1C24"/>
<polygon points="2566,698 2575,677.6 2581,679 2573,698 2565,742.6 2556,742.6" fill="#ED1C24"/>
<polygon points="2593,698 2603,677.6 2608,679 2600,720 2592,742.6 2583,742.6" fill="#ED1C24"/>
</g>
<text x="2525" y="759" font-size="16" fill="#231F20" font-family='"Liberation Serif",serif' textLength="78" lengthAdjust="spacingAndGlyphs">THE MALL</text>
<rect x="2523" y="759.5" width="82" height="0.8" fill="#231F20"/>
<rect x="2521" y="761" width="94" height="35" fill="#fff" stroke="#ccc" stroke-width="0.6"/>
<text x="2548" y="772" font-size="11" font-weight="bold" fill="#E31E24" font-family='"Liberation Serif",serif' textLength="38" lengthAdjust="spacingAndGlyphs">TESCO</text>
<rect x="2521" y="773" width="94" height="23" fill="#0F7A3C"/>
<rect x="2524" y="775" width="20" height="19" fill="#fff" opacity="0.85"/><rect x="2527" y="778" width="14" height="13" fill="#0F7A3C"/><circle cx="2534" cy="784.5" r="4" fill="#6AA84F"/>
<text x="2547" y="794" font-size="24" fill="#fff" font-family='"Liberation Serif",serif' textLength="66" lengthAdjust="spacingAndGlyphs">Lotus</text>
<rect x="2521" y="800.5" width="94" height="44.5" rx="6" fill="#0E67B1"/>
<path d="M 2549 815 L 2568 806 L 2587 815 Z" fill="none" stroke="#fff" stroke-width="2.2"/>
<text x="2527" y="832" font-size="16" font-weight="bold" fill="#fff" font-family='"Liberation Serif",serif' textLength="44" lengthAdjust="spacingAndGlyphs">Home</text>
<text x="2571" y="832" font-size="16" font-weight="bold" fill="#F7A800" font-family='"Liberation Serif",serif' textLength="37" lengthAdjust="spacingAndGlyphs">Pro</text>
<text x="2530" y="840.5" font-size="5" font-weight="bold" fill="#fff" font-family='"Liberation Sans",sans-serif' textLength="77" lengthAdjust="spacingAndGlyphs">Home is HomePro</text>
<text x="2522" y="849.5" font-size="4.5" fill="#0E67B1" font-family='"Liberation Sans",sans-serif' textLength="92" lengthAdjust="spacingAndGlyphs">www.homepro.co.th</text>
<path d="M 2466 801 Q 2474 809 2477 815 Q 2474 822 2466 829 Q 2458 822 2455 815 Q 2458 809 2466 801 Z" fill="none" stroke="#1E2C7E" stroke-width="2.5"/>
<path d="M 2466 813 L 2471 820 L 2466 826 L 2461 820 Z" fill="#1E2C7E"/>
<text x="2433" y="840" font-size="9.5" font-weight="bold" fill="#1E2C7E" font-family='"Liberation Serif",serif' textLength="60" lengthAdjust="spacingAndGlyphs">Bangkok Bank</text>
<text x="2433" y="852" font-size="11" font-weight="bold" fill="#1E2C7E" font-family='"Liberation Sans",sans-serif' textLength="79" lengthAdjust="spacingAndGlyphs">ธนาคารกรุงเทพ</text>
<path d="M 3251 618 Q 3310 581.6 3365.5 618 Q 3310 598.8 3251 618 Z" fill="#F58220"/>
<text x="3235" y="644.1" font-size="31.3" font-weight="bold" fill="#1C87CF" font-family='"Liberation Sans",sans-serif' textLength="146.5" lengthAdjust="spacingAndGlyphs" stroke="#1C87CF" stroke-width="1.6">IMPACT</text>
<text x="3255" y="655" font-size="9.8" fill="#1C87CF" font-family='"Liberation Sans",sans-serif' textLength="107" lengthAdjust="spacingAndGlyphs">MUANG THONG THANI</text>
<path d="M 2230 750 L 2292 750 L 2292 861 L 2273 861 L 2273 832 L 2251 832 L 2251 825.5 L 2273 825.5 L 2273 804 L 2230 804 Z M 2248 767 L 2248 787 L 2273 787 L 2273 767 Z" fill="#E31E24" fill-rule="evenodd"/>
<text x="2235" y="802" font-size="13" fill="#fff" font-family='"Liberation Sans",sans-serif'>x</text>
<defs>
<linearGradient id="bubOuter" x1="0" y1="0" x2="1" y2="1">
<stop offset="0" stop-color="#D4E5EA"/><stop offset="0.5" stop-color="#C3D7DD"/><stop offset="1" stop-color="#9FB8BF"/></linearGradient>
<linearGradient id="bubInner" x1="0" y1="0" x2="0" y2="1">
<stop offset="0" stop-color="#FCFCFD"/><stop offset="1" stop-color="#DCE4E7"/></linearGradient>
</defs>
<path d="M 2014.5 165 Q 2016 113 2065 115 L 2509 186 Q 2540 192 2543 226 L 2559 410 Q 2561 445 2525 447 L 2493 448 Q 2455.5 600 2310 752 Q 2304 756 2308 746 Q 2352.9 596.5 2425 443 L 2062 454 Q 2012 456 2012 414 Z" fill="url(#bubOuter)"/>
<path d="M 2425 443 Q 2352.9 596.5 2308 748 Q 2368 600 2444 445 Z" fill="#6F8F99"/>
<path d="M 2493 448 Q 2455.5 600 2311 750 Q 2436 602 2476 447 Z" fill="#93AEB6"/>
<path d="M 2444 445 Q 2368 600 2310 749 Q 2420 600 2462 446 Z" fill="#CBDBDF"/>
<path d="M 2038 175 Q 2040 133 2072 134 L 2503 203 Q 2523 208 2524.5 228 L 2539 412 Q 2541 433 2522 434 L 2062 441 Q 2038 442 2037 418 Z" fill="url(#bubInner)"/>
<path d="M 2040 160 Q 2044 131 2072 131 L 2503 200 Q 2520 203 2523 220" fill="none" stroke="#73939D" stroke-width="5.5"/>
<path d="M 2532 222 L 2549 415" fill="none" stroke="#90ABB3" stroke-width="5"/>
<path d="M 2060 446 L 2420 441 M 2495 441 L 2527 440" fill="none" stroke="#A9C0C6" stroke-width="5"/>
<g font-family='"Liberation Sans", sans-serif' font-weight="bold" fill="#1A1A1A">
<text x="2074" y="225" font-size="60" transform="rotate(5.6 2074 225)" textLength="274" lengthAdjust="spacingAndGlyphs">ร้านบุญญารัตน์</text>
<text x="2366" y="253" font-size="42" transform="rotate(6 2366 253)" textLength="131" lengthAdjust="spacingAndGlyphs">เบญจรงค์</text>
<text x="2123" y="318.6" font-size="57" transform="rotate(2.65 2123 318.6)" textLength="340" lengthAdjust="spacingAndGlyphs">เข้าซอยประชาชื่น 36</text>
<text x="2162" y="411.5" font-size="59" transform="rotate(-1 2162 411.5)" textLength="292" lengthAdjust="spacingAndGlyphs">มาเพียง 60 เมตร</text>
</g>
</svg></body></html>
